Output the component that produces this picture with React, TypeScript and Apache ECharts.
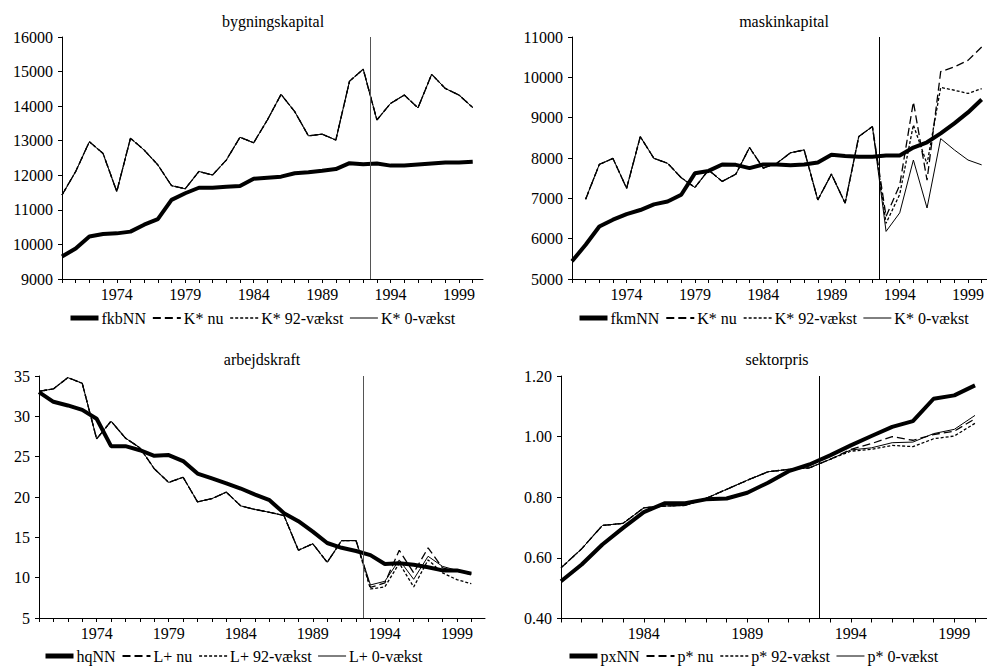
import { useEffect, useRef } from 'react';
import * as echarts from 'echarts';

const FONT = "'Liberation Serif', 'Times New Roman', Times, serif";

// ---------- categories ----------
const years70 = [1970, 1971, 1972, 1973, 1974, 1975, 1976, 1977, 1978, 1979, 1980, 1981, 1982, 1983, 1984, 1985, 1986, 1987, 1988, 1989, 1990, 1991, 1992, 1993, 1994, 1995, 1996, 1997, 1998, 1999, 2000];
const years80 = [1980, 1981, 1982, 1983, 1984, 1985, 1986, 1987, 1988, 1989, 1990, 1991, 1992, 1993, 1994, 1995, 1996, 1997, 1998, 1999, 2000];
const labels70 = [1974, 1979, 1984, 1989, 1994, 1999];
const labels80 = [1984, 1989, 1994, 1999];
const breakYear = 1992.5;

// ---------- bygningskapital ----------
const fkbNN = [9650, 9880, 10230, 10300, 10320, 10370, 10570, 10730, 11290, 11480, 11640, 11640, 11670, 11690, 11900, 11930, 11960, 12060, 12090, 12130, 12180, 12350, 12320, 12340, 12280, 12280, 12310, 12340, 12370, 12370, 12390];
const kbNu = [11430, 12110, 12970, 12630, 11530, 13070, 12730, 12300, 11700, 11610, 12110, 12010, 12440, 13100, 12940, 13600, 14340, 13840, 13140, 13190, 13020, 14720, 15070, 13600, 14080, 14320, 13950, 14920, 14510, 14320, 13960];
const kb92 = [11430, 12110, 12970, 12630, 11530, 13070, 12730, 12300, 11700, 11610, 12110, 12010, 12440, 13100, 12940, 13600, 14340, 13840, 13140, 13190, 13020, 14720, 15070, 13600, 14080, 14320, 13950, 14920, 14510, 14320, 13960];
const kb0 = [11430, 12110, 12970, 12630, 11530, 13070, 12730, 12300, 11700, 11610, 12110, 12010, 12440, 13100, 12940, 13600, 14340, 13840, 13140, 13190, 13020, 14720, 15070, 13600, 14080, 14320, 13950, 14920, 14510, 14320, 13960];

// ---------- maskinkapital ----------
const fkmNN = [5440, 5850, 6300, 6470, 6610, 6710, 6850, 6920, 7090, 7620, 7680, 7840, 7830, 7750, 7840, 7840, 7820, 7840, 7890, 8080, 8050, 8030, 8030, 8060, 8060, 8260, 8390, 8610, 8860, 9130, 9450];
const kmHist = [null, 6980, 7840, 7990, 7250, 8530, 7990, 7870, 7510, 7270, 7700, 7420, 7600, 8260, 7750, 7870, 8130, 8200, 6960, 7600, 6880, 8530, 8780];
const kmNuPost = [6550, 7330, 9390, 7450, 10140, 10260, 10420, 10750];
const km92Post = [6380, 7100, 8820, 7850, 9750, 9680, 9600, 9720];
const km0Post = [6180, 6640, 7950, 6760, 8480, 8200, 7950, 7830];

// ---------- arbejdskraft ----------
const hqNN = [33.0, 31.8, 31.35, 30.8, 29.7, 26.3, 26.3, 25.8, 25.1, 25.2, 24.45, 22.9, 22.3, 21.7, 21.05, 20.3, 19.6, 18.0, 17.0, 15.7, 14.3, 13.7, 13.3, 12.8, 11.7, 11.8, 11.6, 11.3, 10.9, 10.9, 10.5];
const lHist = [33.1, 33.4, 34.8, 34.1, 27.2, 29.4, 27.3, 26.1, 23.5, 21.8, 22.45, 19.4, 19.8, 20.6, 18.9, 18.45, 18.1, 17.7, 13.4, 14.2, 11.9, 14.6, 14.6];
const lNuPost = [8.8, 9.35, 13.4, 10.6, 13.7, 11.2, 10.8, 10.4];
const l92Post = [8.6, 8.85, 11.8, 8.85, 12.2, 10.6, 9.75, 9.25];
const l0Post = [9.1, 9.55, 12.2, 9.8, 12.65, 11.4, 10.9, 10.5];

// ---------- sektorpris ----------
const pxNN = [0.523, 0.578, 0.644, 0.699, 0.751, 0.780, 0.780, 0.793, 0.796, 0.815, 0.848, 0.886, 0.908, 0.938, 0.971, 1.002, 1.032, 1.051, 1.125, 1.136, 1.169];
const pHist = [0.567, 0.630, 0.707, 0.714, 0.765, 0.771, 0.773, 0.796, 0.826, 0.856, 0.884, 0.892, 0.897, 0.925];
const pNuPost = [0.958, 0.977, 1.000, 0.988, 1.007, 1.018, 1.059];
const p92Post = [0.952, 0.958, 0.971, 0.967, 0.993, 1.002, 1.044];
const p0Post = [0.956, 0.963, 0.980, 0.982, 1.010, 1.024, 1.070];

const pairs = (xs: number[], ys: (number | null)[]) => xs.map((x, i) => [x, ys[i] == null ? null : ys[i]]);

type Panel = {
  title: string; titleX: number; titleY: number;
  grid: { left: number; top: number; width: number; height: number };
  years: number[]; labels: number[]; xMin: number; xMax: number;
  yMin: number; yMax: number; yInt: number; yFmt?: (v: number) => string;
  legendLeft: number; legendTop: number; vColor: string;
  names: string[]; data: (number | null)[][];
};

const panels: Panel[] = [
  {
    title: 'bygningskapital', titleX: 273, titleY: 21,
    grid: { left: 62, top: 37, width: 421, height: 242 },
    years: years70, labels: labels70, xMin: 1970, xMax: 2000.75,
    yMin: 9000, yMax: 16000, yInt: 1000,
    legendLeft: 68, legendTop: 310, vColor: '#555',
    names: ['fkbNN', 'K* nu', 'K* 92-vækst', 'K* 0-vækst'],
    data: [fkbNN, kbNu, kb92, kb0],
  },
  {
    title: 'maskinkapital', titleX: 784, titleY: 21,
    grid: { left: 572, top: 37, width: 415, height: 242 },
    years: years70, labels: labels70, xMin: 1970, xMax: 2000.37,
    yMin: 5000, yMax: 11000, yInt: 1000,
    legendLeft: 577, legendTop: 310, vColor: '#000',
    names: ['fkmNN', 'K* nu', 'K* 92-vækst', 'K* 0-vækst'],
    data: [fkmNN, kmHist.concat(kmNuPost), kmHist.concat(km92Post), kmHist.concat(km0Post)],
  },
  {
    title: 'arbejdskraft', titleX: 262, titleY: 359,
    grid: { left: 39, top: 376, width: 446, height: 242 },
    years: years70, labels: labels70, xMin: 1970, xMax: 2000.95,
    yMin: 5, yMax: 35, yInt: 5,
    legendLeft: 43, legendTop: 648, vColor: '#555',
    names: ['hqNN', 'L+ nu', 'L+ 92-vækst', 'L+ 0-vækst'],
    data: [hqNN, lHist.concat(lNuPost), lHist.concat(l92Post), lHist.concat(l0Post)],
  },
  {
    title: 'sektorpris', titleX: 777, titleY: 359,
    grid: { left: 561, top: 376, width: 426, height: 242.5 },
    years: years80, labels: labels80, xMin: 1980, xMax: 2000.58,
    yMin: 0.4, yMax: 1.2, yInt: 0.2, yFmt: (v: number) => v.toFixed(2),
    legendLeft: 567, legendTop: 648, vColor: '#000',
    names: ['pxNN', 'p* nu', 'p* 92-vækst', 'p* 0-vækst'],
    data: [pxNN, pHist.concat(pNuPost), pHist.concat(p92Post), pHist.concat(p0Post)],
  },
];

const lineStyles = [
  { width: 4, type: 'solid' as any },
  { width: 1.3, type: [8, 4] as any },
  { width: 1.3, type: [3, 2] as any },
  { width: 1, type: 'solid' as any },
];
const legendLineWidths = [5, 1.8, 1.6, 1];

function buildOption() {
  const grid: any[] = [];
  const xAxis: any[] = [];
  const yAxis: any[] = [];
  const series: any[] = [];
  const legend: any[] = [];
  const graphic: any[] = [];
  const FS = 16;
  const txt = { fontFamily: FONT, fontSize: FS, color: '#000' };

  panels.forEach((p, gi) => {
    grid.push({ ...p.grid, containLabel: false });
    xAxis.push({
      type: 'value', gridIndex: gi, min: p.xMin, max: p.xMax,
      axisLine: { show: true, lineStyle: { color: '#000', width: 1 } },
      axisTick: { show: true, length: 4, customValues: p.years, lineStyle: { color: '#000' } },
      axisLabel: { show: true, customValues: p.labels, margin: 7, ...txt, formatter: (v: number) => String(Math.round(v)) },
      splitLine: { show: false },
    });
    yAxis.push({
      type: 'value', gridIndex: gi, min: p.yMin, max: p.yMax, interval: p.yInt,
      axisLine: { show: true, lineStyle: { color: '#000', width: 1 } },
      axisTick: { show: true, length: 4, lineStyle: { color: '#000' } },
      axisLabel: { show: true, margin: 9, ...txt, formatter: p.yFmt ? p.yFmt : (v: number) => String(v) },
      splitLine: { show: false },
    });
    p.names.forEach((name, si) => {
      const s: any = {
        type: 'line', name, xAxisIndex: gi, yAxisIndex: gi,
        data: pairs(p.years, p.data[si]),
        showSymbol: false, symbol: 'none', connectNulls: false,
        lineStyle: { color: '#000', ...lineStyles[si] },
        itemStyle: { color: '#000' },
        emphasis: { disabled: true },
        z: si === 0 ? 2 : 3,
      };
      if (si === 0) {
        s.markLine = {
          silent: true, symbol: ['none', 'none'], label: { show: false },
          lineStyle: { color: p.vColor, width: 1, type: 'solid' },
          emphasis: { disabled: true },
          data: [{ xAxis: breakYear }],
        };
      }
      series.push(s);
    });
    legend.push({
      left: p.legendLeft, top: p.legendTop, orient: 'horizontal', padding: 0,
      itemWidth: 28, itemHeight: 14, itemGap: 6, selectedMode: false,
      itemStyle: { opacity: 0 },
      textStyle: { ...txt, padding: [0, 0, 0, -2] },
      data: p.names.map((name, si) => ({
        name,
        lineStyle: { width: legendLineWidths[si], color: '#000', type: lineStyles[si].type },
      })),
    });
    graphic.push({
      type: 'text', x: p.titleX, y: p.titleY,
      style: { text: p.title, textAlign: 'center', textVerticalAlign: 'middle', fontFamily: FONT, fontSize: FS, fill: '#000' },
    });
  });

  return {
    animation: false,
    backgroundColor: '#fff',
    grid, xAxis, yAxis, series, legend, graphic,
  };
}

export default function App() {
  const ref = useRef<HTMLDivElement>(null);
  useEffect(() => {
    if (!ref.current) return;
    const chart = echarts.init(ref.current, null, { renderer: 'svg' });
    chart.setOption(buildOption() as any);
    return () => chart.dispose();
  }, []);
  return <div ref={ref} style={{ position: 'absolute', left: 0, top: 0, width: 987, height: 666, background: '#fff' }} />;
}
